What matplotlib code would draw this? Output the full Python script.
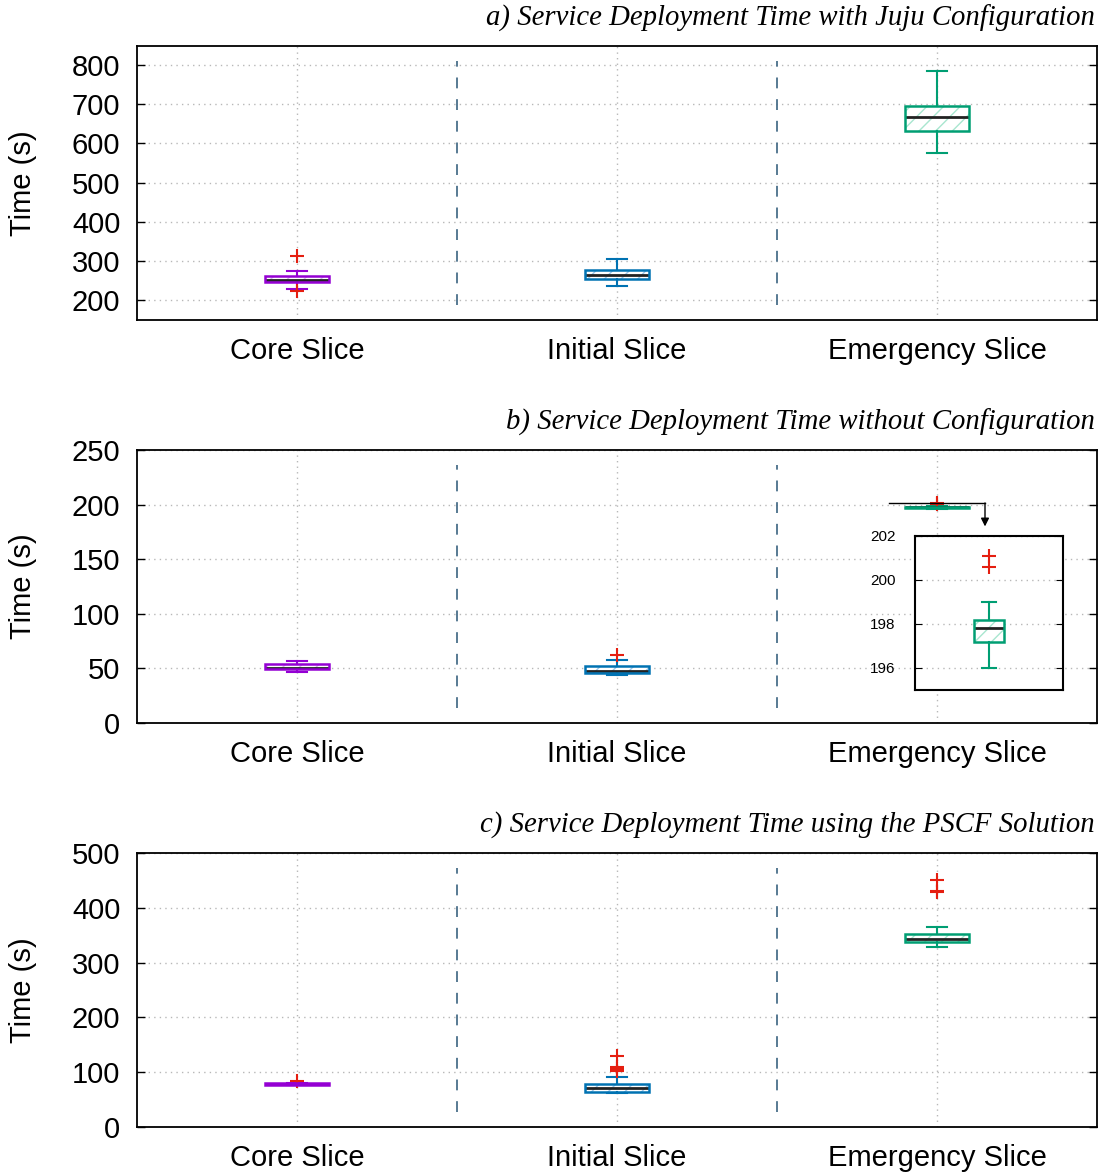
import matplotlib
matplotlib.use('Agg')
import matplotlib.pyplot as plt
from matplotlib.patches import PathPatch

plt.rcParams['font.family'] = ['Liberation Sans', 'DejaVu Sans']

slices = ['Core Slice', 'Initial Slice', 'Emergency Slice']
colors = ['#9400d3', '#0072b2', '#009e73']
hatch_colors = ['#d9b3f0', '#9cc7ea', '#a8e6cf']

# a) with Juju configuration
juju_lo = [227, 237, 575]
juju_q1 = [247, 253, 631]
juju_med = [251, 264, 668]
juju_q3 = [261, 277, 695]
juju_hi = [273, 304, 785]
juju_fliers = [[313, 223], [], []]

# b) without configuration
noconf_lo = [46.8, 43.5, 196.0]
noconf_q1 = [49.5, 46.0, 197.2]
noconf_med = [50.8, 47.3, 197.8]
noconf_q3 = [53.8, 52.4, 198.2]
noconf_hi = [56.8, 58.0, 199.0]
noconf_fliers = [[], [62.5], [200.6, 201.1]]

# c) PSCF solution
pscf_lo = [76, 61.5, 329]
pscf_q1 = [77.5, 64.5, 338]
pscf_med = [78.5, 70.5, 342.5]
pscf_q3 = [79.5, 79, 352.5]
pscf_hi = [81, 91, 365.5]
pscf_fliers = [[84], [130, 109, 106, 103], [451, 430, 428]]

titles = ['a) Service Deployment Time with Juju Configuration',
          'b) Service Deployment Time without Configuration',
          'c) Service Deployment Time using the PSCF Solution']

W, H = 1102, 1174
fig = plt.figure(figsize=(W / 100, H / 100), dpi=100)


def make_stats(lo, q1, med, q3, hi, fl):
    return [dict(whislo=a, q1=b, med=c, q3=d, whishi=e, fliers=f)
            for a, b, c, d, e, f in zip(lo, q1, med, q3, hi, fl)]


def draw_boxes(ax, stats, positions, cols, hcols, width=0.2, capw=0.06):
    for st, pos, c, hc in zip(stats, positions, cols, hcols):
        res = ax.bxp([st], positions=[pos], widths=width, capwidths=capw,
                     patch_artist=True, manage_ticks=False,
                     boxprops=dict(facecolor='white', edgecolor=hc, lw=0, hatch='//'),
                     whiskerprops=dict(color=c, lw=1.5),
                     capprops=dict(color=c, lw=1.5),
                     medianprops=dict(color='#222222', lw=2),
                     flierprops=dict(marker='+', markeredgecolor='#e51e10',
                                     markersize=10, markeredgewidth=1.5,
                                     linestyle='none'))
        for b in res['boxes']:
            ax.add_patch(PathPatch(b.get_path(), facecolor='none', edgecolor=c,
                                   lw=1.8, zorder=b.get_zorder() + 0.1))


def style_axes(ax):
    ax.tick_params(axis='both', direction='in', right=True, top=False,
                   labelsize=21, length=6, width=1)
    ax.tick_params(axis='y', pad=12)
    ax.tick_params(axis='x', pad=12.5, length=0)
    ax.grid(True, linestyle=(0, (1, 3)), color='#b8b8b8', lw=1)
    ax.set_axisbelow(True)
    for s in ax.spines.values():
        s.set_linewidth(1.3)


panels = [
    (46, 320, (149, 849), range(200, 801, 100),
     make_stats(juju_lo, juju_q1, juju_med, juju_q3, juju_hi, juju_fliers)),
    (450, 723, (0, 250), range(0, 251, 50),
     make_stats(noconf_lo, noconf_q1, noconf_med, noconf_q3, noconf_hi, noconf_fliers)),
    (853, 1127, (0, 500), range(0, 501, 100),
     make_stats(pscf_lo, pscf_q1, pscf_med, pscf_q3, pscf_hi, pscf_fliers)),
]

left, right = 137, 1097
axes = []
for i, (top, bot, ylim, yt, stats) in enumerate(panels):
    ax = fig.add_axes([left / W, (H - bot) / H, (right - left) / W, (bot - top) / H])
    draw_boxes(ax, stats, [1, 2, 3], colors, hatch_colors)
    ax.set_xlim(0.5, 3.5)
    ax.set_ylim(*ylim)
    ax.set_yticks(list(yt))
    ax.set_xticks([1, 2, 3])
    ax.set_xticklabels(slices, fontsize=21.5)
    ax.set_ylabel('Time (s)', fontsize=21)
    ax.yaxis.set_label_coords(-0.104, 0.5)
    for xv in [1.5, 2.5]:
        ax.axvline(xv, ymin=0.055, ymax=0.945, color='#4a6f8a', lw=1.3,
                   linestyle=(0, (6, 6)))
    style_axes(ax)
    fig.text(1095 / W, (H - top + 28) / H, titles[i], ha='right', va='center',
             fontsize=20.7, style='italic', family='Liberation Serif')
    axes.append(ax)

# inset zoom for emergency slice in panel b
axb = axes[1]
axb.plot([2.85, 3.15], [201.5, 201.5], color='black', lw=1)
axb.annotate('', xy=(3.15, 180), xytext=(3.15, 201.5),
             arrowprops=dict(arrowstyle='-|>', color='black', lw=1,
                             shrinkA=0, shrinkB=0, mutation_scale=12))

ins = fig.add_axes([915 / W, (H - 690) / H, 148 / W, 154 / H])
ins_stats = make_stats(noconf_lo[2:], noconf_q1[2:], noconf_med[2:],
                       noconf_q3[2:], noconf_hi[2:], noconf_fliers[2:])
draw_boxes(ins, ins_stats, [0.5], colors[2:], hatch_colors[2:], width=0.2, capw=0.1)
ins.set_xlim(0, 1)
ins.set_ylim(195, 202)
ins.set_yticks([196, 198, 200, 202])
ins.set_xticks([])
ins.tick_params(axis='y', direction='in', right=True, labelsize=11, length=5, pad=14)
ins.grid(True, axis='y', linestyle=(0, (1, 3)), color='#b8b8b8', lw=1)
ins.set_axisbelow(True)
for s in ins.spines.values():
    s.set_linewidth(1.5)

fig.savefig('out.png', dpi=100)
